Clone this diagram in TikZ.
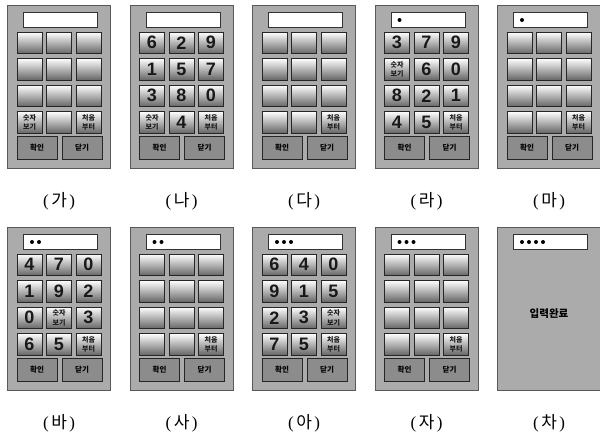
\documentclass[tikz,border=0pt]{standalone}
\usepackage{fontspec}
\setmainfont{Liberation Serif}
\setsansfont{Liberation Sans}
\newfontfamily\kr{Noto Sans CJK KR}
\usetikzlibrary{positioning,calc}

\tikzset{
  panel/.style={draw=black!65, line width=1.3pt, fill=black!33, minimum width=103pt, minimum height=163pt, inner sep=0pt},
  screen/.style={draw=black!80, line width=1pt, fill=white, minimum width=74pt, minimum height=15pt, inner sep=0pt},
  key/.style={draw=black!85, line width=0.9pt, top color=white, bottom color=black!60, minimum width=25pt, minimum height=21.5pt, inner sep=0pt, text=black!90, font=\sffamily\bfseries\fontsize{18}{18}\selectfont},
  cmdkey/.style={draw=black!85, line width=1pt, fill=black!45, minimum width=40pt, minimum height=23pt, inner sep=0pt, font=\kr\bfseries\fontsize{7.5}{8}\selectfont},
  tag/.style={inner sep=0pt, font=\fontsize{17}{17}\selectfont},
}

% two-line key labels
\newcommand{\sj}{{\kr\bfseries\fontsize{7}{7.5}\selectfont\shortstack{숫자\\보기}}}
\newcommand{\cp}{{\kr\bfseries\fontsize{7}{7.5}\selectfont\shortstack{처음\\부터}}}
\newcommand{\tg}[1]{(\hspace{2.5pt}{\kr #1}\hspace{2.5pt})}

% #1 name, #2 left, #3 top, #4 tag, #5 entered digits, #6 keys
\newcommand{\phonepad}[6]{%
  \node[panel, anchor=north west] (#1) at (#2,#3) {};
  \node[screen, anchor=north west] (#1-scr) at ($(#1.north west)+(16,7)$) {};
  \ifnum#5>0
    \foreach \d in {1,...,#5} \fill ($(#1-scr.west)+(2+7*\d,0)$) circle (2pt);
  \fi
  \foreach \k [count=\i from 0] in {#6} {
    \pgfmathtruncatemacro\kcol{mod(\i,3)}
    \pgfmathtruncatemacro\krow{int(\i/3)}
    \node[key] (#1-k\i) at ($(#1.north west)+(22.5+29.5*\kcol,37.75+26.5*\krow)$) {\k};
  }
  \node[cmdkey] (#1-ok) at ($(#1.north west)+(30,142.5)$) {확인};
  \node[cmdkey] (#1-no) at ($(#1.north west)+(75,142.5)$) {닫기};
  \node[tag] (#1-tag) at ([yshift=-32pt]#1.south) {\tg{#4}};
}

\begin{document}
\begin{tikzpicture}[x=1pt, y=-1pt]
\fill[white] (0,0) rectangle (600,434);
\useasboundingbox (0,0) rectangle (600,434);

% top row
\phonepad{ga}{7}{5}{가}{0}{{},{},{},{},{},{},{},{},{},\sj,{},\cp}
\phonepad{na}{129.5}{5}{나}{0}{6,2,9,1,5,7,3,8,0,\sj,4,\cp}
\phonepad{da}{252}{5}{다}{0}{{},{},{},{},{},{},{},{},{},{},{},\cp}
\phonepad{ra}{374.5}{5}{라}{1}{3,7,9,\sj,6,0,8,2,1,4,5,\cp}
\phonepad{ma}{497}{5}{마}{1}{{},{},{},{},{},{},{},{},{},{},{},\cp}

% bottom row
\phonepad{ba}{7}{227}{바}{2}{4,7,0,1,9,2,0,\sj,3,6,5,\cp}
\phonepad{sa}{129.5}{227}{사}{2}{{},{},{},{},{},{},{},{},{},{},{},\cp}
\phonepad{aa}{252}{227}{아}{3}{6,4,0,9,1,5,2,3,\sj,7,5,\cp}
\phonepad{ja}{374.5}{227}{자}{3}{{},{},{},{},{},{},{},{},{},{},{},\cp}

% finished pad
\node[panel, anchor=north west] (cha) at (497,227) {};
\node[screen, anchor=north west] (cha-scr) at ($(cha.north west)+(16,7)$) {};
\foreach \d in {1,...,4} \fill ($(cha-scr.west)+(2+7*\d,0)$) circle (2pt);
\node[font=\kr\bfseries\fontsize{10.5}{11}\selectfont] (cha-msg) at ($(cha.north west)+(52,87)$) {입력완료};
\node[tag] (cha-tag) at ([yshift=-32pt]cha.south) {\tg{차}};
\end{tikzpicture}
\end{document}
